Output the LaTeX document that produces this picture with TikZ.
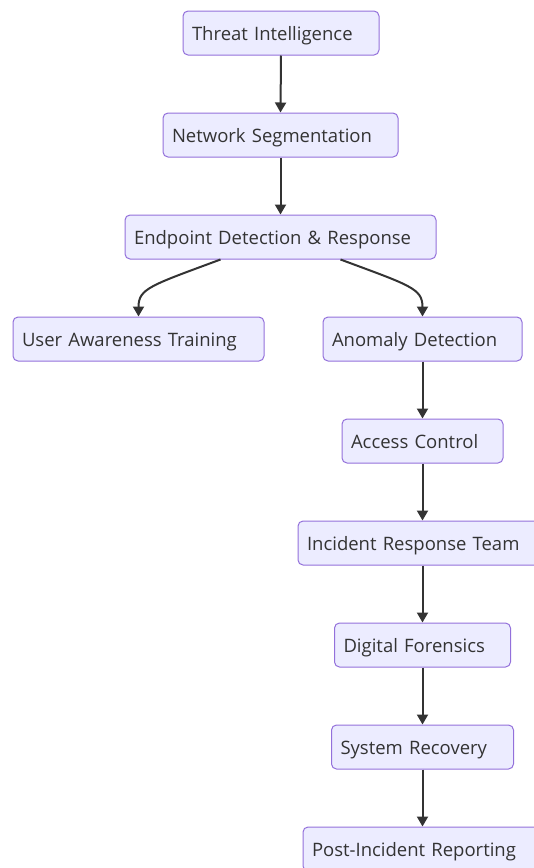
\documentclass[tikz,border=0pt]{standalone}
\usepackage{fontspec}
\setmainfont{Open Sans}
\usetikzlibrary{arrows.meta}
\definecolor{boxfill}{HTML}{ECECFF}
\definecolor{boxline}{HTML}{9370DB}
\definecolor{ink}{HTML}{333333}
\begin{document}
\begin{tikzpicture}[x=1pt,y=-1pt,
  box/.style={draw=boxline, fill=boxfill, line width=1pt, rounded corners=5pt,
    minimum height=44pt, inner xsep=9pt, inner ysep=0pt, align=left,
    text height=15pt, text depth=0pt,
    text=ink, font=\fontsize{18.5}{22}\selectfont, anchor=center},
  flow/.style={draw=ink, line width=2pt, -{Triangle[length=10pt,width=11pt]}}]
\useasboundingbox (0,0) rectangle (534,868);
\clip (0,0) rectangle (534,868);
% boxes: text width = box width - 2*9pt
\node[box, text width=178pt] (ti)  at (281,33)    {Threat Intelligence};
\node[box, text width=217pt] (ns)  at (280.5,135) {Network Segmentation};
\node[box, text width=293pt] (edr) at (280.5,237) {Endpoint Detection \& Response};
\node[box, text width=233pt] (uat) at (138.5,339) {User Awareness Training};
\node[box, text width=181pt] (ad)  at (422.5,339) {Anomaly Detection};
\node[box, text width=143pt] (ac)  at (422.5,441) {Access Control};
\node[box, text width=231pt] (irt) at (422.5,543) {Incident Response Team};
\node[box, text width=158pt] (df)  at (422.5,645) {Digital Forensics};
\node[box, text width=164pt] (sr)  at (422.5,747) {System Recovery};
\node[box, text width=221pt] (pir) at (422.5,849) {Post-Incident Reporting};
% connectors
\draw[flow] (ti.south) -- (ns.north);
\draw[flow] (ns.south) -- (edr.north);
\draw[flow] ([xshift=-60pt]edr.south) .. controls +(-70,26) and +(0,-28) .. (uat.north);
\draw[flow] ([xshift=60pt]edr.south) .. controls +(70,26) and +(0,-28) .. (ad.north);
\draw[flow] (ad.south) -- (ac.north);
\draw[flow] (ac.south) -- (irt.north);
\draw[flow] (irt.south) -- (df.north);
\draw[flow] (df.south) -- (sr.north);
\draw[flow] (sr.south) -- (pir.north);
\end{tikzpicture}
\end{document}
